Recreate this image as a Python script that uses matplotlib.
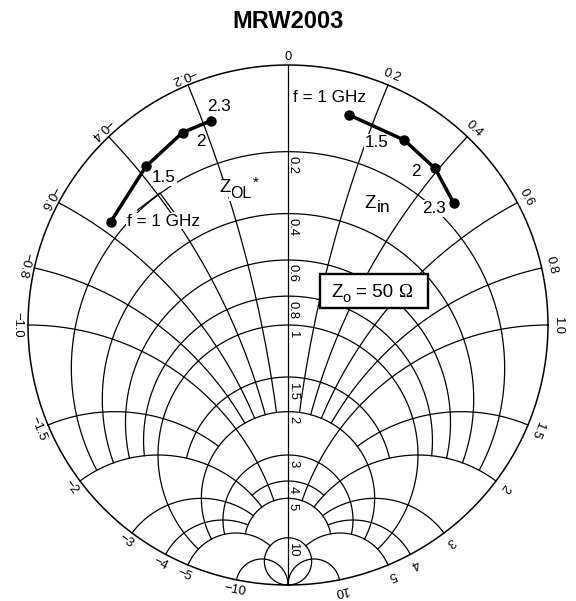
import numpy as np
import matplotlib
matplotlib.use('Agg')
import matplotlib.pyplot as plt
from matplotlib.patches import Rectangle

plt.rcParams['font.family'] = ['Liberation Sans', 'DejaVu Sans']

# ---------------- data ----------------
title = 'MRW2003'
Z0 = 50.0
freq_labels = ['f = 1 GHz', '1.5', '2', '2.3']
zin_r = [4.4, 4.7, 5.5, 7.3]
zin_x = [7.1, 14.3, 19.6, 24.9]
zol_r = [7.8, 5.7, 4.5, 4.5]
zol_x = [-28.2, -18.9, -12.7, -9.1]

# Smith grid values (normalised) and where each line stops
r_values = [0.2, 0.4, 0.6, 0.8, 1.0, 1.5, 2, 3, 4, 5, 10]
r_limits = [2, 2, 2, 2, 5, 2, 5, 5, 2, 5, np.inf]
x_values = [0.2, 0.4, 0.6, 0.8, 1.0, 1.5, 2, 3, 4, 5, 10]
x_limits = [2, 2, 2, 2, 5, 2, 5, 5, 5, 10, np.inf]
r_tick_labels = ['0.2', '0.4', '0.6', '0.8', '1', '1.5', '2', '3', '4', '5', '10']
x_tick_labels = ['0.2', '0.4', '0.6', '0.8', '1.0', '1.5', '2', '3', '4', '5', '10']

# ---------------- figure ----------------
W, H, DPI = 576, 601, 100
fig = plt.figure(figsize=(W / DPI, H / DPI), dpi=DPI)
cx, cy, R = 288.0, 325.0, 260.0
ax = fig.add_axes([(cx - R) / W, (H - cy - R) / H, 2 * R / W, 2 * R / H])
ax.set_xlim(-1, 1)
ax.set_ylim(-1, 1)
ax.axis('off')


def to_xy(z):
    g = (np.asarray(z) - 1) / (np.asarray(z) + 1)
    return np.imag(g), -np.real(g)


def px(x, y):
    return (x - cx) / R, (cy - y) / R


GLW = 0.9
# outer circle
t = np.linspace(0, 2 * np.pi, 800)
ax.plot(np.cos(t), np.sin(t), color='black', lw=1.1, zorder=1, clip_on=False)
# real axis
ax.plot([0, 0], [-1, 1], color='black', lw=GLW, zorder=3.5, clip_on=False)

# resistance circles
for r, L in zip(r_values, r_limits):
    th_max = np.arctan(L / (1 + r)) if np.isfinite(L) else np.pi / 2 - 1e-9
    th = np.linspace(-th_max, th_max, 1500)
    xs = (1 + r) * np.tan(th)
    X, Y = to_xy(r + 1j * xs)
    ax.plot(X, Y, color='black', lw=GLW, zorder=1, clip_on=False)

# reactance arcs
for xv, L in zip(x_values, x_limits):
    tmax = L / (1 + L) if np.isfinite(L) else 1 - 1e-9
    tt = np.linspace(0, tmax, 2000)
    rs = tt / (1 - tt)
    for s in (1, -1):
        X, Y = to_xy(rs + 1j * s * xv)
        ax.plot(X, Y, color='black', lw=GLW, zorder=1, clip_on=False)

# reactance labels around the rim
for xv, lab in zip(x_values, x_tick_labels):
    for s in (1, -1):
        X, Y = to_xy(1j * s * xv)
        th = np.arctan2(Y, X)
        rr = 1 + 10.5 / R
        rot = np.degrees(th) - 90 if s > 0 else np.degrees(th) + 90
        text = lab if s > 0 else '\u2212' + lab
        ax.text(rr * np.cos(th), rr * np.sin(th), text, fontsize=9.4,
                rotation=rot, rotation_mode='anchor', ha='center', va='center',
                zorder=3)
ax.text(0, 1 + 8 / R, '0', fontsize=9.4, ha='center', va='center')

# resistance labels along the axis
for r, lab in zip(r_values, r_tick_labels):
    X, Y = to_xy(r + 0j)
    ax.text(X + 2.0 / R, Y - 4.5 / R, lab, fontsize=9.4, rotation=-90,
            rotation_mode='anchor', ha='left', va='baseline', zorder=3,
            bbox=dict(facecolor='white', edgecolor='none', pad=1.0))

# ---------------- data curves ----------------
for rr_, xx_ in ((zin_r, zin_x), (zol_r, zol_x)):
    z = (np.array(rr_) + 1j * np.array(xx_)) / Z0
    X, Y = to_xy(z)
    ax.plot(X, Y, color='black', lw=2.5, zorder=6, solid_capstyle='round')
    ax.plot(X, Y, 'o', color='black', ms=6.5, zorder=6)

# ---------------- annotations ----------------
FS = 12.3
wb = dict(facecolor='white', edgecolor='none', pad=0.6)


def label(x, y, s, size=FS, ha='center', va='center', **kw):
    ax.text(*px(x, y), s, fontsize=size, ha=ha, va=va, zorder=4, bbox=wb, **kw)


# Zin side
label(293, 97, freq_labels[0], ha='left')
label(377, 142.5, freq_labels[1])
label(415.5, 171.5, freq_labels[2])
label(434, 208.5, freq_labels[3])
label(376.5, 212.5, 'in', size=12.6, ha='left', va='baseline')
label(364.5, 208.5, 'Z', size=13.2, ha='left', va='baseline')
# ZOL side
label(218.5, 106.5, freq_labels[3])
label(200.5, 142, freq_labels[2])
label(164, 177.5, freq_labels[1])
label(163.5, 221, freq_labels[0])
label(230.0, 197.5, 'OL', size=11.5, ha='left', va='baseline')
label(219.5, 192.5, 'Z', size=13.2, ha='left', va='baseline')
label(253.0, 187, '*', size=11, ha='left', va='baseline')
lx, ly = zip(px(137.5, 210), px(160, 193), px(173.5, 211.5))
ax.plot(lx, ly, color='black', lw=GLW, zorder=4)

# Zo box
x0, y0 = px(320, 308)
x1, y1 = px(428, 274)
ax.add_patch(Rectangle((x0, y0), x1 - x0, y1 - y0, facecolor='white',
                       edgecolor='black', lw=1.7, zorder=4))
ax.text(*px(331.0, 297.3), 'Z', fontsize=13.5, ha='left', va='baseline', zorder=5)
ax.text(*px(342.5, 301.5), 'o', fontsize=10.5, ha='left', va='baseline', zorder=5)
ax.text(*px(355.5, 297.3), '= 50', fontsize=13.5, ha='left', va='baseline', zorder=5)
ax.text(*px(413.0, 297.3), '\u03a9', fontsize=13.5, ha='right', va='baseline',
        zorder=5, family=['Liberation Serif', 'DejaVu Serif'])

fig.text(0.5, 1 - 21 / H, title, ha='center', va='center', fontsize=17,
         fontweight='bold')

fig.savefig('out.png', dpi=DPI)
